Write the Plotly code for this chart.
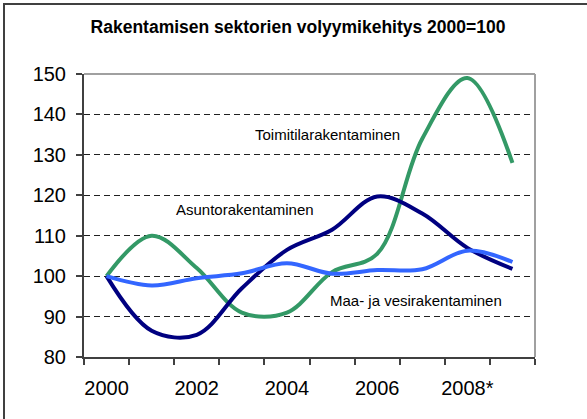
import plotly.graph_objects as go

years = [2000, 2001, 2002, 2003, 2004, 2005, 2006, 2007, 2008, 2009]
tick_years = [2000, 2002, 2004, 2006, 2008]
tick_labels = ["2000", "2002", "2004", "2006", "2008*"]

toimitila = [100, 110, 102, 91, 91, 101, 105.5, 134, 149, 128]
asunto = [100, 86.5, 85.5, 97, 106.5, 111.5, 119.7, 115.5, 107, 101.8]
maa_vesi = [100, 97.7, 99.5, 100.7, 103.2, 100.6, 101.5, 101.7, 106.3, 103.5]

series_names = ["Toimitilarakentaminen", "Asuntorakentaminen", "Maa- ja vesirakentaminen"]
series_colors = ["#339966", "#000080", "#3366FF"]

W, H = 587, 419
L, R, T, B = 84, 52, 74, 62

fig = go.Figure()
for name, vals, col in zip(series_names, [toimitila, asunto, maa_vesi], series_colors):
    fig.add_trace(go.Scatter(
        x=years, y=vals, mode="lines", name=name,
        line=dict(color=col, width=4, shape="spline", smoothing=1.0),
        showlegend=False, hoverinfo="skip",
    ))

font_family = "Liberation Sans, Arial, sans-serif"

fig.update_layout(
    width=W, height=H,
    margin=dict(l=L, r=R, t=T, b=B, pad=0),
    paper_bgcolor="white", plot_bgcolor="white",
    font=dict(family=font_family, color="black"),
    title=dict(
        text="<b>Rakentamisen sektorien volyymikehitys 2000=100</b>",
        x=298 / W, xref="container", xanchor="center",
        y=1 - 27 / H, yref="container", yanchor="middle",
        font=dict(size=17.5, color="black", family=font_family),
    ),
    xaxis=dict(
        range=[1999.5, 2009.5],
        tickmode="array", tickvals=tick_years, ticktext=tick_labels,
        ticks="", showgrid=False, zeroline=False,
        showline=True, linecolor="#404040", linewidth=2,
        tickfont=dict(size=20, color="black"),
        ticklabelstandoff=12,
        minor=dict(tickmode="linear", tick0=1999.5, dtick=1, ticks="outside",
                   ticklen=6, tickwidth=2, tickcolor="#404040", showgrid=False),
    ),
    yaxis=dict(
        range=[80, 150], tickmode="linear", tick0=80, dtick=10,
        ticks="outside", ticklen=6, tickwidth=2, tickcolor="#404040",
        showline=True, linecolor="#404040", linewidth=2,
        showgrid=True, gridcolor="#202020", gridwidth=1, griddash="6px,4px",
        zeroline=False,
        tickfont=dict(size=20, color="black"),
        ticklabelstandoff=6,
    ),
)

# plot-area border (top and right, gray)
fig.add_shape(type="line", xref="paper", yref="paper", x0=0, x1=1, y0=1, y1=1,
              line=dict(color="#A0A0A0", width=2), layer="above")
fig.add_shape(type="line", xref="paper", yref="paper", x0=1, x1=1, y0=0, y1=1,
              line=dict(color="#A0A0A0", width=2), layer="above")

# outer frame (left and top edges visible; right/bottom beyond the image)
pw = W - L - R
ph = H - T - B
def px2paper_x(px):
    return (px - L) / pw
def px2paper_y(py):
    return (H - B - py) / ph
fig.add_shape(type="rect", xref="paper", yref="paper",
              x0=px2paper_x(4), x1=px2paper_x(W + 10),
              y0=px2paper_y(H + 10), y1=px2paper_y(4),
              line=dict(color="#404040", width=2), fillcolor="rgba(0,0,0,0)", layer="above")

labels = [("Toimitilarakentaminen", 2004.9, 135), ("Asuntorakentaminen", 2003.07, 116.4),
          ("Maa- ja vesirakentaminen", 2006.86, 93.9)]
for text, lx, ly in labels:
    fig.add_annotation(text=text, x=lx, y=ly, xref="x", yref="y", showarrow=False,
                       font=dict(size=15, color="black", family=font_family))

fig.write_html("out.html", config={"displayModeBar": False, "staticPlot": True},
               post_script="document.body.style.margin='0';document.body.style.overflow='hidden';")
